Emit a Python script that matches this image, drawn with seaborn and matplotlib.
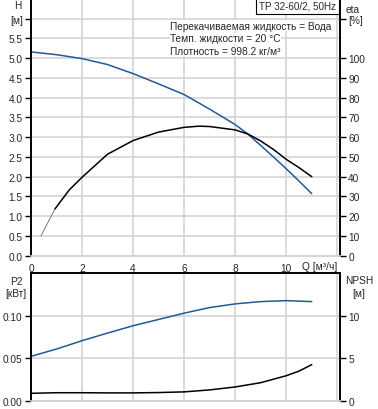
import matplotlib
matplotlib.use("Agg")
import matplotlib.pyplot as plt
import seaborn as sns
import pandas as pd

# Кривые насоса TP 32-60/2, 50Hz
q_h = [0, 1, 2, 3, 4, 5, 6, 7, 8, 8.5, 9, 9.5, 10, 10.5, 11]
h = [5.16, 5.09, 4.99, 4.84, 4.61, 4.35, 4.08, 3.71, 3.32, 3.08, 2.79, 2.50, 2.20, 1.89, 1.57]

q_eta = [0.39, 0.94, 1.5, 2, 3, 4, 5, 6, 6.6, 7, 8, 8.5, 9, 9.5, 10, 10.5, 11]
eta = [10, 23.7, 33.3, 39.7, 51.4, 58.3, 62.6, 65.0, 65.6, 65.4, 63.7, 61.6, 58.1, 53.8, 48.8, 44.6, 40]

q_p2 = [0, 1, 2, 3, 4, 5, 6, 7, 8, 9, 10, 11]
p2 = [0.0523, 0.0609, 0.0707, 0.0797, 0.0883, 0.0957, 0.1031, 0.1097, 0.114, 0.1167, 0.1178, 0.1167]

q_npsh = [0, 1, 2, 3, 4, 5, 6, 7, 8, 9, 10, 10.5, 11]
npsh = [0.88, 0.95, 0.95, 0.93, 0.93, 0.97, 1.05, 1.28, 1.63, 2.13, 2.95, 3.49, 4.26]

info = ["Перекачиваемая жидкость = Вода", "Темп. жидкости = 20 °C", "Плотность = 998.2 кг/м³"]

blue = "#235a94"
grid = "#d4d4d4"
fs = 7.3

sns.set_style("white")
plt.rcParams["font.family"] = ["Liberation Sans", "DejaVu Sans"]
plt.rcParams["font.size"] = fs

df_h = pd.DataFrame({"Q": q_h, "H": h})
df_eta = pd.DataFrame({"Q": q_eta, "eta": eta})
df_p2 = pd.DataFrame({"Q": q_p2, "P2": p2})
df_npsh = pd.DataFrame({"Q": q_npsh, "NPSH": npsh})

fig = plt.figure(figsize=(3.78, 4.10), dpi=100)
ax1 = fig.add_axes([0.082, 0.374, 0.817, 0.626])
ax2 = fig.add_axes([0.082, 0.020, 0.817, 0.311])

# --- верхний график: H и КПД
sns.lineplot(data=df_h, x="Q", y="H", ax=ax1, color=blue, lw=1.1)
ax1r = ax1.twinx()
sns.lineplot(data=df_eta[df_eta.Q <= 0.94], x="Q", y="eta", ax=ax1r, color="#666666", lw=0.6)
sns.lineplot(data=df_eta[df_eta.Q >= 0.94], x="Q", y="eta", ax=ax1r, color="black", lw=1.1)

ax1.set_xlim(0, 12.1)
ax1.set_ylim(0, 6.5)
ax1r.set_ylim(0, 130)
ax1.set_xticks(range(0, 13, 2))
ax1.set_xticklabels(["0", "2", "4", "6", "8", "10", ""])
ax1.set_yticks([i * 0.5 for i in range(13)])
ax1.set_yticklabels([f"{i * 0.5:.1f}" for i in range(12)] + ["[м]"])
ax1r.set_yticks(list(range(0, 101, 10)) + [120])
ax1r.set_yticklabels([str(v) for v in range(0, 101, 10)] + ["[%]"])
ax1.text(-0.042, 0.977, "H", transform=ax1.transAxes, ha="center", va="center")
ax1r.text(1.018, 0.962, "eta", transform=ax1.transAxes, ha="left", va="center")
ax1.text(12.0, -0.039, "Q [м³/ч]", ha="right", va="center", transform=ax1.get_xaxis_transform())

ax1.grid(True, color=grid, lw=1.2)
ax1.set_xlabel("")
ax1.set_ylabel("")
ax1r.set_ylabel("")

for i, t in enumerate(info):
    ax1.text(0.45, 0.896 - i * 0.0485, t, transform=ax1.transAxes, ha="left", va="center",
             bbox=dict(facecolor="white", edgecolor="none", pad=0.3))
ax1.text(0.987, 0.973, "TP 32-60/2, 50Hz", transform=ax1.transAxes, ha="right", va="center",
         fontsize=7.1, bbox=dict(facecolor="white", edgecolor="black", lw=0.8, pad=2.2))

# --- нижний график: P2 и NPSH
sns.lineplot(data=df_p2, x="Q", y="P2", ax=ax2, color=blue, lw=1.1)
ax2r = ax2.twinx()
sns.lineplot(data=df_npsh, x="Q", y="NPSH", ax=ax2r, color="black", lw=1.1)

ax2.set_xlim(0, 12.1)
ax2.set_ylim(0, 0.15)
ax2r.set_ylim(0, 15)
ax2.set_xticks(range(0, 13, 2))
ax2.set_xticklabels([])
ax2.set_yticks([0, 0.05, 0.10])
ax2.set_yticklabels(["0.00", "0.05", "0.10"])
ax2r.set_yticks([0, 5, 10])
ax2.text(-0.049, 0.942, "P2", transform=ax2.transAxes, ha="center", va="center")
ax2.text(-0.049, 0.845, "[кВт]", transform=ax2.transAxes, ha="center", va="center")
ax2r.text(1.018, 0.947, "NPSH", transform=ax2.transAxes, ha="left", va="center")
ax2r.text(1.041, 0.845, "[м]", transform=ax2.transAxes, ha="left", va="center")
ax2.grid(True, color=grid, lw=1.2)
ax2.set_xlabel("")
ax2.set_ylabel("")
ax2r.set_ylabel("")

for a in (ax1, ax1r, ax2, ax2r):
    for s in a.spines.values():
        s.set_color("black")
        s.set_linewidth(1.2)
    a.spines["bottom"].set_color(grid)
    a.tick_params(length=4, width=1, color="black", pad=2)
for a in (ax1, ax1r):
    a.spines["top"].set_visible(False)
ax1.tick_params(axis="x", length=3, color=grid)
ax2.tick_params(axis="x", length=0)

fig.savefig("out.png", dpi=100)
